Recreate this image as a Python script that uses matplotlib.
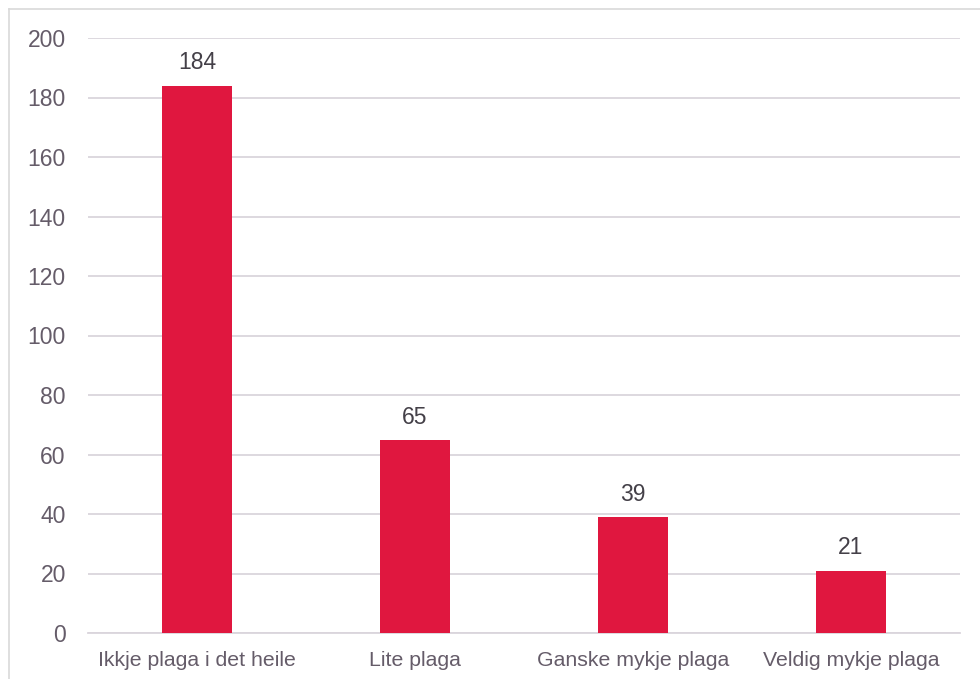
import matplotlib.pyplot as plt
from matplotlib.lines import Line2D

# data
categories = ['Ikkje plaga i det heile', 'Lite plaga', 'Ganske mykje plaga', 'Veldig mykje plaga']
values = [184, 65, 39, 21]

text_col = '#655C69'
grid_col = '#DAD5DC'
bar_col = '#E0173F'

plt.rcParams['font.family'] = ['Liberation Sans', 'DejaVu Sans']

fig = plt.figure(figsize=(9.8, 6.79), dpi=100)
ax = fig.add_axes([88/980, 1 - 633/679, 872/980, (633 - 38)/679])

x = range(len(categories))
bars = ax.bar(x, values, width=0.317, color=bar_col, zorder=3)
for b, v in zip(bars, values):
    ax.annotate(str(v), (b.get_x() + b.get_width()/2, v), xytext=(0, 8),
                textcoords='offset points', ha='center', va='bottom',
                fontsize=16.5, color='#444048')

ax.set_xlim(-0.5, len(categories) - 0.5)
ax.set_ylim(0, 200)
ax.set_yticks(range(0, 201, 20))
ax.set_xticks(list(x))
ax.set_xticklabels(categories)
ax.grid(axis='y', color=grid_col, linewidth=1.3, zorder=0)
ax.tick_params(axis='y', length=0, labelsize=16.5, colors=text_col, pad=16)
ax.tick_params(axis='x', length=0, labelsize=15.3, colors=text_col, pad=13)
for s in ['top', 'right', 'left']:
    ax.spines[s].set_visible(False)
ax.spines['bottom'].set_color(grid_col)
ax.spines['bottom'].set_linewidth(1.3)

# outer chart border (top and left visible)
fig.add_artist(Line2D([9/980, 9/980], [0, 1 - 9/679], color='#D9D9D9', lw=1.2))
fig.add_artist(Line2D([9/980, 1], [1 - 9/679, 1 - 9/679], color='#D9D9D9', lw=1.2))

fig.savefig('out.png', dpi=100)
